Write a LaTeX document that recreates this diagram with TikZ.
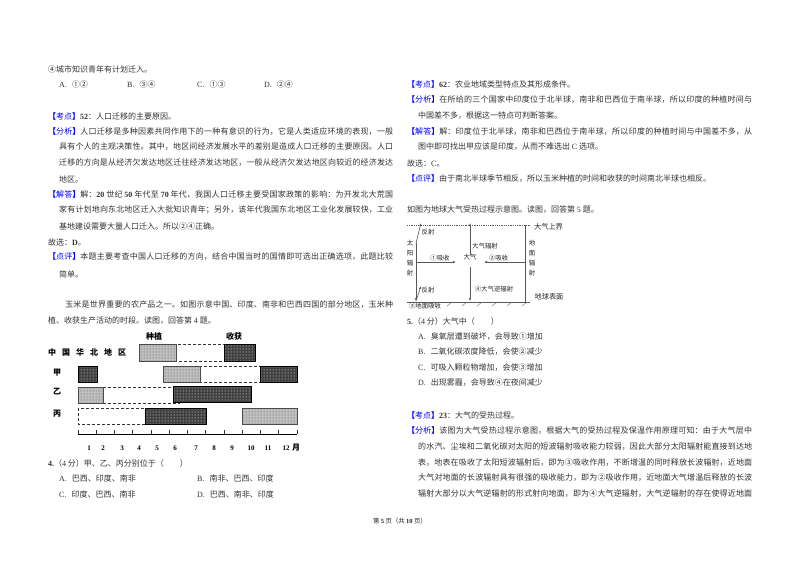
\documentclass[tikz,border=0pt]{standalone}
\usepackage{fontspec}
\usepackage{xcolor}
\usetikzlibrary{patterns,arrows.meta}
\setmainfont{Noto Sans CJK SC}
\newfontfamily\latf{Liberation Serif}
\XeTeXlinebreaklocale "zh"
\XeTeXlinebreakskip=0pt plus 3pt minus 0.4pt
% full width punctuation
\renewcommand{\,}{^^^^ff0c}
\renewcommand{\:}{^^^^ff1a}
\renewcommand{\;}{^^^^ff1b}
\renewcommand{\(}{^^^^ff08}
\renewcommand{\)}{^^^^ff09}
\newcommand{\rmn}[1]{{\latf #1}}
\newcommand{\opt}[1]{{\latf #1.}\hspace{5pt}}
\newcommand{\jl}[1]{\sloppy\parfillskip=0pt #1\par}
\newcommand{\hd}[1]{\textcolor{blue}{\textbf{【}#1\textbf{】}}}
\tikzset{
txt/.style={anchor=west,inner sep=0pt,font=\fontsize{8}{9}\selectfont,text=black!80},
jst/.style={txt,align=justify,text width=#1},
fig/.style={inner sep=0pt,font=\fontsize{6.4}{7}\selectfont,text=black!85},
lbl/.style={inner sep=0pt,font=\fontsize{8}{9}\selectfont\bfseries},
num/.style={inner sep=0pt,font=\fontsize{7}{8}\selectfont\latf\bfseries},
darkbar/.style={draw=black,pattern=dots,pattern color=white,preaction={fill=black!75}},
lightbar/.style={draw=black!70,pattern=dots,pattern color=black!70,preaction={fill=black!25}},
dashbar/.style={draw=black!80,densely dashed,line width=.7pt},
ray/.style={draw=black!65,line width=.6pt},
tip/.style={ray,-{Latex[length=3pt,width=2.5pt]}}
}
\begin{document}
\begin{tikzpicture}[x=1pt,y=-1pt]
\useasboundingbox[fill=white] (0,0) rectangle (800,565);
% left column, first question
\node[txt] (q3d) at (48,69) {④城市知识青年有计划迁入。};
\node[txt] (q3a) at (59,84) {\opt{A}①②};
\node[txt] (q3b) at (127,84) {\opt{B}③④};
\node[txt] (q3c) at (197,84) {\opt{C}①③};
\node[txt] (q3e) at (264,84) {\opt{D}②④};
\node[txt] (kd1) at (48,116) {\hd{考点}\rmn{\textbf{52}}\:人口迁移的主要原因。};
\node[jst=345pt] (fx1) at (48,132) {\jl{\hd{分析}人口迁移是多种因素共同作用下的一种有意识的行为\,它是人类适应环境的表现\,一般}};
\node[jst=334pt] (fx2) at (59,147) {\jl{具有个人的主观决策性。其中\,地区间经济发展水平的差别是造成人口迁移的主要原因。人口}};
\node[jst=334pt] (fx3) at (59,163) {\jl{迁移的方向是从经济欠发达地区迁往经济发达地区\,一般从经济欠发达地区向较近的经济发达}};
\node[txt] (fx4) at (59,179) {地区。};
\node[jst=345pt] (jd1) at (48,195) {\jl{\hd{解答}解\:\rmn{\textbf{20}} 世纪 \rmn{\textbf{50}} 年代至 \rmn{\textbf{70}} 年代\,我国人口迁移主要受国家政策的影响\:为开发北大荒国}};
\node[jst=334pt] (jd2) at (59,210) {\jl{家有计划地向东北地区迁入大批知识青年\;另外\,该年代我国东北地区工业化发展较快\,工业}};
\node[txt] (jd3) at (59,226) {基地建设需要大量人口迁入。所以②④正确。};
\node[txt] (gx1) at (48,242) {故选\:\rmn{\textbf{D}}。};
\node[jst=345pt] (dp1) at (48,257) {\jl{\hd{点评}本题主要考查中国人口迁移的方向\,结合中国当时的国情即可选出正确选项\,此题比较}};
\node[txt] (dp2) at (59,274) {简单。};
\node[jst=328pt] (ym1) at (65,305) {\jl{玉米是世界重要的农产品之一。如图示意中国、印度、南非和巴西四国的部分地区\,玉米种}};
\node[txt] (ym2) at (48,321) {植、收获生产活动的时段。读图\,回答第 \rmn{4} 题。};
% maize chart
\node[lbl] (zz) at (154,336) {种植};
\node[lbl] (sh) at (234,336) {收获};
\node[lbl,anchor=west] (hb) at (48,352) {中\hspace{6pt}国\hspace{6pt}华\hspace{6pt}北\hspace{6pt}地\hspace{6pt}区};
\node[lbl] (ja) at (57,373) {甲};
\node[lbl] (yi) at (57,392) {乙};
\node[lbl] (bg) at (57,414) {丙};
\draw[dashbar] (176,344) rectangle (224,361);
\draw[lightbar] (139,344) rectangle (176,361);
\draw[darkbar] (224,344) rectangle (255,361);
\draw[darkbar] (78,366) rectangle (97,382);
\draw[dashbar] (200,366) rectangle (260,382);
\draw[lightbar] (163,366) rectangle (200,382);
\draw[darkbar] (260,366) rectangle (297,382);
\draw[dashbar] (103,387) -- (173,387);
\draw[dashbar] (103,403) -- (180,403);
\draw[lightbar] (78,387) rectangle (103,403);
\draw[darkbar] (173,386) rectangle (251,402);
\draw[dashbar] (78,408) rectangle (145,424);
\draw[darkbar] (145,408) rectangle (206,424);
\draw[lightbar] (242,408) rectangle (297,424);
\draw[line width=1pt] (78,434) -- (297,434);
\foreach \i in {0,...,12}\draw[black!80,line width=.6pt] ({78+18.25*\i},434) -- ({78+18.25*\i},430);
\foreach \x/\m in {89/1,103/2,122/3,139/4,157/5,175/6,196/7,214/8,232/9,251/10,268/11,286/12}\node[num] (m\m) at (\x,448) {\m};
\node[lbl] (yue) at (296,448) {月};
% question 4
\node[txt] (q4) at (48,463) {\rmn{\textbf{4.}}\(\rmn{4} 分\)甲、乙、丙分别位于\(\hspace{16pt}\)};
\node[txt] (q4a) at (59,478) {\opt{A}巴西、印度、南非};
\node[txt] (q4b) at (197,478) {\opt{B}南非、巴西、印度};
\node[txt] (q4c) at (59,494) {\opt{C}印度、巴西、南非};
\node[txt] (q4d) at (197,494) {\opt{D}巴西、南非、印度};
% right column
\node[txt] (kd2) at (407,84) {\hd{考点}\rmn{\textbf{62}}\:农业地域类型特点及其形成条件。};
\node[jst=345pt] (fy1) at (407,100) {\jl{\hd{分析}在所给的三个国家中印度位于北半球\,南非和巴西位于南半球\,所以印度的种植时间与}};
\node[txt] (fy2) at (418,116) {中国差不多\,根据这一特点可判断答案。};
\node[jst=345pt] (jf1) at (407,132) {\jl{\hd{解答}解\:印度位于北半球\,南非和巴西位于南半球\,所以印度的种植时间与中国差不多\,从}};
\node[txt] (jf2) at (418,147) {图中即可找出甲应该是印度\,从而不难选出 \rmn{C} 选项。};
\node[txt] (gx2) at (407,163) {故选\:\rmn{C}。};
\node[txt] (dq1) at (407,179) {\hd{点评}由于南北半球季节相反\,所以玉米种植的时间和收获的时间南北半球也相反。};
\node[txt] (rd) at (407,210) {如图为地球大气受热过程示意图。读图\,回答第 \rmn{5} 题。};
% heat process figure
\coordinate (tl) at (407,225);
\coordinate (tr) at (530,225);
\coordinate (gl) at (407,302);
\coordinate (gr) at (530,302);
\coordinate (s0) at (416,243);
\coordinate (s1) at (416,301);
\coordinate (r1) at (421,223);
\coordinate (r2) at (421,286);
\coordinate (s2) at (416,262);
\coordinate (a1) at (456,262);
\coordinate (e0) at (525,225);
\coordinate (e1) at (525,302);
\coordinate (e2) at (525,262);
\coordinate (a2) at (484,262);
\coordinate (c0) at (470,255);
\coordinate (c1) at (470,223);
\coordinate (c2) at (470,267);
\coordinate (c3) at (470,301);
\draw[black!65,densely dotted,line width=.8pt] (tl) -- (tr);
\draw[ray] (gl) -- (gr);
\foreach \x in {432,447,462,477,492,507,522}\draw[black!60,line width=.4pt] (\x,306) -- (\x+5,302);
\draw[tip] (s0) -- (s1);
\draw[tip] (s0) -- (r1);
\draw[tip] (s1) -- (r2);
\draw[tip] (s2) -- (a1);
\draw[ray] (e0) -- (e1);
\draw[tip] (e2) -- (a2);
\draw[tip] (c0) -- (c1);
\draw[tip] (c2) -- (c3);
\node[fig] (top) at (548.5,227) {\fontsize{7.2}{8}\selectfont 大气上界};
\node[fig] (grd) at (549,297) {\fontsize{7.2}{8}\selectfont 地球表面};
\node[fig] (fs1) at (428,232) {反射};
\node[fig] (fs2) at (428,290) {反射};
\node[fig] (xs1) at (440,258) {①吸收};
\node[fig] (xs2) at (498.5,258) {②吸收};
\node[fig] (dq) at (470,257) {大气};
\node[fig,anchor=west] (qf) at (472,246) {大气辐射};
\node[fig] (nf) at (494,289) {④大气逆辐射};
\node[fig] (dm) at (425,306) {③地面吸收};
\foreach \c/\y in {太/243,阳/253,辐/263,射/273}\node[fig] (t\y) at (410,\y) {\c};
\foreach \c/\y in {地/243,面/253,辐/263,射/273}\node[fig] (d\y) at (532,\y) {\c};
% question 5
\node[txt] (q5) at (407,321) {\rmn{\textbf{5.}}\(\rmn{4} 分\)大气中\(\hspace{16pt}\)};
\node[txt] (q5a) at (418,337) {\opt{A}臭氧层遭到破坏\,会导致①增加};
\node[txt] (q5b) at (418,352) {\opt{B}二氧化碳浓度降低\,会使②减少};
\node[txt] (q5c) at (418,368) {\opt{C}可吸入颗粒物增加\,会使③增加};
\node[txt] (q5d) at (418,383) {\opt{D}出现雾霾\,会导致④在夜间减少};
\node[txt] (kd3) at (407,415) {\hd{考点}\rmn{\textbf{23}}\:大气的受热过程。};
\node[jst=345pt] (fz1) at (407,431) {\jl{\hd{分析}该图为大气受热过程示意图\,根据大气的受热过程及保温作用原理可知\:由于大气层中}};
\node[jst=334pt] (fz2) at (418,447) {\jl{的水汽、尘埃和二氧化碳对太阳的短波辐射吸收能力较弱\,因此大部分太阳辐射能直接到达地}};
\node[jst=334pt] (fz3) at (418,463) {\jl{表\,地表在吸收了太阳短波辐射后\,即为③吸收作用\,不断增温的同时释放长波辐射\,近地面}};
\node[jst=334pt] (fz4) at (418,478) {\jl{大气对地面的长波辐射具有很强的吸收能力\,即为②吸收作用\,近地面大气增温后释放的长波}};
\node[jst=334pt] (fz5) at (418,494) {\jl{辐射大部分以大气逆辐射的形式射向地面\,即为④大气逆辐射\,大气逆辐射的存在使得近地面}};
% page number
\node[fig] (pg) at (400,521) {第 \rmn{\textbf{5}} 页\(共 \rmn{\textbf{10}} 页\)};
\end{tikzpicture}
\end{document}
